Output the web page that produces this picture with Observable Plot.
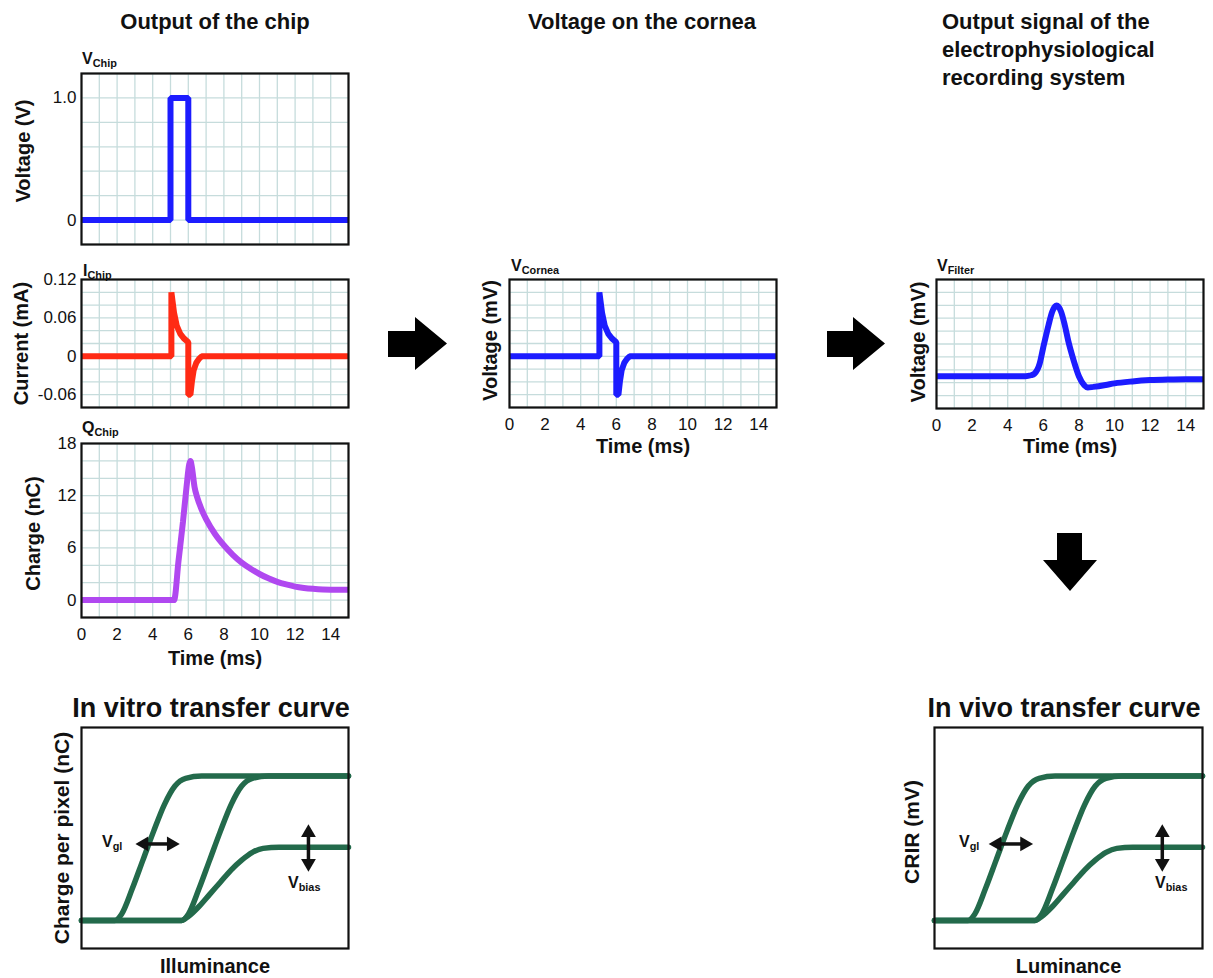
<!DOCTYPE html>
<html>
<head>
<meta charset="utf-8">
<script src="https://cdn.jsdelivr.net/npm/d3@7"></script>
<script src="https://cdn.jsdelivr.net/npm/@observablehq/plot@0.6"></script>
<style>
  body { margin: 0; background: #fff; }
  #fig { position: relative; width: 1213px; height: 978px; overflow: hidden; background: #fff;
         font-family: "Liberation Sans", Arial, Helvetica, sans-serif; color: #111; }
  .lbl { position: absolute; white-space: nowrap; font-weight: bold; line-height: 1; }
  .lbl sub { font-size: 0.68em; vertical-align: baseline; position: relative; top: 0.28em; }
</style>
</head>
<body>
<div id="fig"></div>
<script>
// ---------- data ----------
const msTicks = [0, 2, 4, 6, 8, 10, 12, 14];
const msGrid = [0, 1, 2, 3, 4, 5, 6, 7, 8, 9, 10, 11, 12, 13, 14, 15];

// V_Chip (V)
const vChipTime = [0, 5, 5, 6, 6, 15];
const vChipVolt = [0, 0, 1, 1, 0, 0];
const vChipTicks = [0, 1];
const vChipGrid = [-0.2, 0, 0.2, 0.4, 0.6, 0.8, 1.0, 1.2];

// I_Chip (mA)
const iChipTime = [0, 5.05, 5.05, 5.2, 5.35, 5.55, 5.75, 6.0, 6.0, 6.12, 6.2, 6.3, 6.45, 6.6, 6.75, 15];
const iChipCurrent = [0, 0, 0.1, 0.068, 0.048, 0.035, 0.028, 0.022, -0.06, -0.06, -0.04, -0.022, -0.01, -0.004, 0, 0];
const iChipTicks = [-0.06, 0, 0.06, 0.12];
const iChipGrid = [-0.08, -0.06, -0.04, -0.02, 0, 0.02, 0.04, 0.06, 0.08, 0.1, 0.12];

// Q_Chip (nC)
const qChipTime = [0, 5.2, 5.45, 5.7, 5.9, 6.05, 6.12, 6.2, 6.35, 6.5, 6.75, 7, 7.5, 8, 8.5, 9, 9.5, 10, 10.5, 11, 11.5, 12, 12.5, 13, 14, 15];
const qChipCharge = [0, 0, 4.5, 9, 13, 15.6, 16, 15.3, 13.0, 11.8, 10.4, 9.3, 7.6, 6.3, 5.2, 4.3, 3.6, 3.0, 2.5, 2.1, 1.8, 1.55, 1.4, 1.3, 1.2, 1.2];
const qChipTicks = [0, 6, 12, 18];
const qChipGrid = [-2, 0, 2, 4, 6, 8, 10, 12, 14, 16, 18];

// V_Cornea (a.u.)
const corneaTime = [0, 5.05, 5.05, 5.2, 5.35, 5.55, 5.75, 6.0, 6.0, 6.12, 6.2, 6.3, 6.45, 6.6, 6.75, 15];
const corneaVolt = [0, 0, 0.1, 0.068, 0.048, 0.035, 0.028, 0.022, -0.06, -0.06, -0.04, -0.022, -0.01, -0.004, 0, 0];
const corneaGrid = [-0.08, -0.06, -0.04, -0.02, 0, 0.02, 0.04, 0.06, 0.08, 0.1, 0.12];

// V_Filter (a.u.)
const filterTime = [0, 5, 5.3, 5.5, 5.8, 6.0, 6.3, 6.5, 6.75, 7.0, 7.2, 7.4, 7.7, 8.0, 8.3, 8.5, 8.8, 9.5, 10, 11, 12, 13, 14, 15];
const filterVolt = [0, 0, 0.03, 0.08, 0.4, 0.9, 1.6, 2.0, 2.19, 2.0, 1.6, 1.1, 0.5, 0.0, -0.28, -0.35, -0.33, -0.27, -0.22, -0.16, -0.12, -0.1, -0.09, -0.09];
const filterGrid = [-1, -0.6, -0.2, 0.2, 0.6, 1.0, 1.4, 1.8, 2.2, 2.6, 3.0];

// transfer curves (illuminance / luminance vs response, a.u.)
const tcLowGateX  = [0, 12.5, 15, 19, 23, 27, 31, 35, 39, 45, 100];
const tcLowGateY  = [12.7, 12.7, 15.5, 27, 40, 53, 65, 73.5, 77, 78, 78];
const tcHighGateX = [0, 37.5, 40, 44, 48, 52, 56, 60, 64, 70, 100];
const tcHighGateY = [12.7, 12.7, 15.5, 27, 40, 53, 65, 73.5, 77, 78, 78];
const tcLowBiasX  = [0, 37.5, 40, 44, 48, 52, 56, 60, 64, 68, 74, 100];
const tcLowBiasY  = [12.7, 12.7, 14.5, 19, 24.5, 30, 35.5, 40, 43.5, 45.3, 45.8, 45.8];

// annotation arrows (x, y in the same a.u.)
const vglArrow  = {x1: 20.5, x2: 36.5, y: 47.3};
const vbiasArrow = {x: 85, y1: 35, y2: 56};

// ---------- helpers ----------
const fig = document.getElementById("fig");
const FONT = '"Liberation Sans", Arial, Helvetica, sans-serif';
const GRID = "#c6dcdc";

function place(el, left, top) {
  el.style.position = "absolute";
  el.style.left = left + "px";
  el.style.top = top + "px";
  fig.appendChild(el);
}
function label(html, {x, baseline, size, anchor = "start", weight = "bold"}) {
  const d = document.createElement("div");
  d.className = "lbl";
  d.innerHTML = html;
  d.style.fontSize = size + "px";
  d.style.fontWeight = weight;
  if (anchor === "middle") d.style.transform = "translateX(-50%)";
  place(d, x, baseline - 0.8465 * size);
  return d;
}
const plotStyle = {background: "transparent", overflow: "visible", fontFamily: FONT, color: "#111", maxWidth: "none"};

function timePanel(o) {
  const ml = 100, mr = 12, mt = 12, mb = 70;
  const data = o.time.map((t, i) => ({t, v: o.values[i]}));
  const marks = [
    Plot.ruleX(msGrid, {stroke: GRID, strokeWidth: 1.3}),
    Plot.ruleY(o.yGrid, {stroke: GRID, strokeWidth: 1.3}),
    Plot.line(data, {x: "t", y: "v", stroke: o.color, strokeWidth: 6, curve: o.curve || "linear",
                     strokeLinejoin: "miter", strokeLinecap: "butt"}),
    Plot.frame({stroke: "#111", strokeWidth: 2.2}),
    Plot.text([o.ylab], {frameAnchor: "left", rotate: -90, dx: o.ylabCx - o.fx, dy: o.ylabDy || 0, textAnchor: "middle",
                         lineAnchor: "middle", fontSize: 20, fontWeight: "bold", fill: "#111"})
  ];
  if (o.yTicks) marks.push(Plot.axisY(o.yTicks, {tickSize: 0, tickPadding: 5, fontSize: 17, tickFormat: o.yFmt, label: null}));
  if (o.xAxis) {
    marks.push(Plot.axisX(msTicks, {tickSize: 0, tickPadding: 10, fontSize: 17, label: null}));
    marks.push(Plot.text(["Time (ms)"], {frameAnchor: "bottom", dy: o.xlabDy, textAnchor: "middle",
                                         lineAnchor: "middle", fontSize: 20, fontWeight: "bold", fill: "#111"}));
  }
  const svg = Plot.plot({
    width: ml + o.fw + mr, height: mt + o.fh + mb,
    marginLeft: ml, marginRight: mr, marginTop: mt, marginBottom: mb,
    x: {domain: [0, 15], axis: o.xAxis ? undefined : null},
    y: {domain: o.yDomain, axis: o.yTicks ? undefined : null},
    style: plotStyle,
    marks
  });
  place(svg, o.fx - ml, o.fy - mt);
}

function transferPanel(o) {
  const ml = 100, mr = 12, mt = 12, mb = 50;
  const curves = [
    ...tcLowGateX.map((x, i) => ({c: "lowGate", x, y: tcLowGateY[i]})),
    ...tcHighGateX.map((x, i) => ({c: "highGate", x, y: tcHighGateY[i]})),
    ...tcLowBiasX.map((x, i) => ({c: "lowBias", x, y: tcLowBiasY[i]}))
  ];
  const hx = 2.9, vy = 3.6; // head inset (a.u.)
  const heads = [
    {x: vglArrow.x1 + hx, y: vglArrow.y, r: -90},
    {x: vglArrow.x2 - hx, y: vglArrow.y, r: 90},
    {x: vbiasArrow.x, y: vbiasArrow.y2 - vy, r: 0},
    {x: vbiasArrow.x, y: vbiasArrow.y1 + vy, r: 180}
  ];
  const shafts = [
    {x1: vglArrow.x1 + hx, x2: vglArrow.x2 - hx, y1: vglArrow.y, y2: vglArrow.y},
    {x1: vbiasArrow.x, x2: vbiasArrow.x, y1: vbiasArrow.y1 + vy, y2: vbiasArrow.y2 - vy}
  ];
  const svg = Plot.plot({
    width: ml + o.fw + mr, height: mt + o.fh + mb,
    marginLeft: ml, marginRight: mr, marginTop: mt, marginBottom: mb,
    x: {domain: [0, 100], axis: null},
    y: {domain: [0, 100], axis: null},
    style: plotStyle,
    marks: [
      Plot.line(curves, {x: "x", y: "y", z: "c", stroke: "#236a4b", strokeWidth: 5.5, curve: "monotone-x"}),
      Plot.link(shafts, {x1: "x1", x2: "x2", y1: "y1", y2: "y2", stroke: "#111", strokeWidth: 3.5}),
      Plot.dot(heads, {x: "x", y: "y", rotate: "r", symbol: "triangle", r: 5.5, fill: "#111", stroke: null}),
      Plot.frame({stroke: "#111", strokeWidth: 2.2}),
      Plot.text([o.ylab], {frameAnchor: "left", rotate: -90, dx: o.ylabCx - o.fx, dy: o.ylabDy || 0,
                           textAnchor: "middle", lineAnchor: "middle", fontSize: 21, fontWeight: "bold", fill: "#111"}),
      Plot.text([o.xlab], {frameAnchor: "bottom", dy: 18, textAnchor: "middle", lineAnchor: "middle",
                           fontSize: 20, fontWeight: "bold", fill: "#111"})
    ]
  });
  place(svg, o.fx - ml, o.fy - mt);
}

function blockArrow(points) {
  const ns = "http://www.w3.org/2000/svg";
  const s = document.createElementNS(ns, "svg");
  s.setAttribute("width", 1213); s.setAttribute("height", 978);
  const p = document.createElementNS(ns, "polygon");
  p.setAttribute("points", points.map(d => d.join(",")).join(" "));
  p.setAttribute("fill", "#000");
  s.appendChild(p);
  s.style.pointerEvents = "none";
  place(s, 0, 0);
}

// ---------- titles ----------
label("Output of the chip", {x: 215, baseline: 30, size: 22, anchor: "middle"});
label("Voltage on the cornea", {x: 642, baseline: 30, size: 22, anchor: "middle"});
label("Output signal of the", {x: 942, baseline: 30, size: 22});
label("electrophysiological", {x: 942, baseline: 58, size: 22});
label("recording system", {x: 942, baseline: 86, size: 22});
label("In vitro transfer curve", {x: 211, baseline: 718, size: 27, anchor: "middle"});
label("In vivo transfer curve", {x: 1064, baseline: 718, size: 27, anchor: "middle"});

// ---------- time panels ----------
timePanel({fx: 81, fy: 73, fw: 267, fh: 171, time: vChipTime, values: vChipVolt, color: "#1c1cff",
  yDomain: [-0.2, 1.2], yGrid: vChipGrid, yTicks: vChipTicks, yFmt: d => d === 0 ? "0" : d.toFixed(1),
  ylab: "Voltage (V)", ylabCx: 23, ylabDy: -8});
timePanel({fx: 81, fy: 279, fw: 267, fh: 128, time: iChipTime, values: iChipCurrent, color: "#ff2a14",
  yDomain: [-0.08, 0.12], yGrid: iChipGrid, yTicks: iChipTicks, yFmt: d => d === 0 ? "0" : d.toFixed(2),
  ylab: "Current (mA)", ylabCx: 21});
timePanel({fx: 81, fy: 443, fw: 267, fh: 174, time: qChipTime, values: qChipCharge, color: "#b048f0",
  yDomain: [-2, 18], yGrid: qChipGrid, yTicks: qChipTicks, yFmt: d => String(d), curve: "monotone-x",
  ylab: "Charge (nC)", ylabCx: 33, ylabDy: 3, xAxis: true, xlabDy: 41});
timePanel({fx: 509, fy: 279, fw: 267, fh: 128, time: corneaTime, values: corneaVolt, color: "#1c1cff",
  yDomain: [-0.08, 0.12], yGrid: corneaGrid,
  ylab: "Voltage (mV)", ylabCx: 490, ylabDy: -3, xAxis: true, xlabDy: 39});
timePanel({fx: 936, fy: 279, fw: 267, fh: 129, time: filterTime, values: filterVolt, color: "#1c1cff",
  yDomain: [-1, 3], yGrid: filterGrid, curve: "monotone-x",
  ylab: "Voltage (mV)", ylabCx: 918, ylabDy: -2, xAxis: true, xlabDy: 38});

// ---------- panel symbols ----------
label("V<sub>Chip</sub>", {x: 82, baseline: 65, size: 16});
label("I<sub>Chip</sub>", {x: 83, baseline: 276.5, size: 16});
label("Q<sub>Chip</sub>", {x: 82, baseline: 433.5, size: 16});
label("V<sub>Cornea</sub>", {x: 511, baseline: 272, size: 16});
label("V<sub>Filter</sub>", {x: 937, baseline: 272, size: 16});

// ---------- transfer panels ----------
transferPanel({fx: 81, fy: 727, fw: 267, fh: 221, ylab: "Charge per pixel (nC)", ylabCx: 62, xlab: "Illuminance"});
transferPanel({fx: 934, fy: 727, fw: 268, fh: 221, ylab: "CRIR (mV)", ylabCx: 912, ylabDy: -6, xlab: "Luminance"});

label("V<sub>gl</sub>", {x: 102, baseline: 848, size: 16});
label("V<sub>bias</sub>", {x: 288, baseline: 889, size: 16});
label("V<sub>gl</sub>", {x: 959, baseline: 848, size: 16});
label("V<sub>bias</sub>", {x: 1155, baseline: 889, size: 16});

// ---------- block arrows ----------
blockArrow([[388, 331], [415, 331], [415, 317], [447, 343.5], [415, 370], [415, 357], [388, 357]]);
blockArrow([[827, 331], [853, 331], [853, 317], [885, 343.5], [853, 370], [853, 357], [827, 357]]);
blockArrow([[1057, 533], [1082, 533], [1082, 560], [1097, 560], [1070, 591], [1043, 560], [1057, 560]]);
</script>
</body>
</html>
